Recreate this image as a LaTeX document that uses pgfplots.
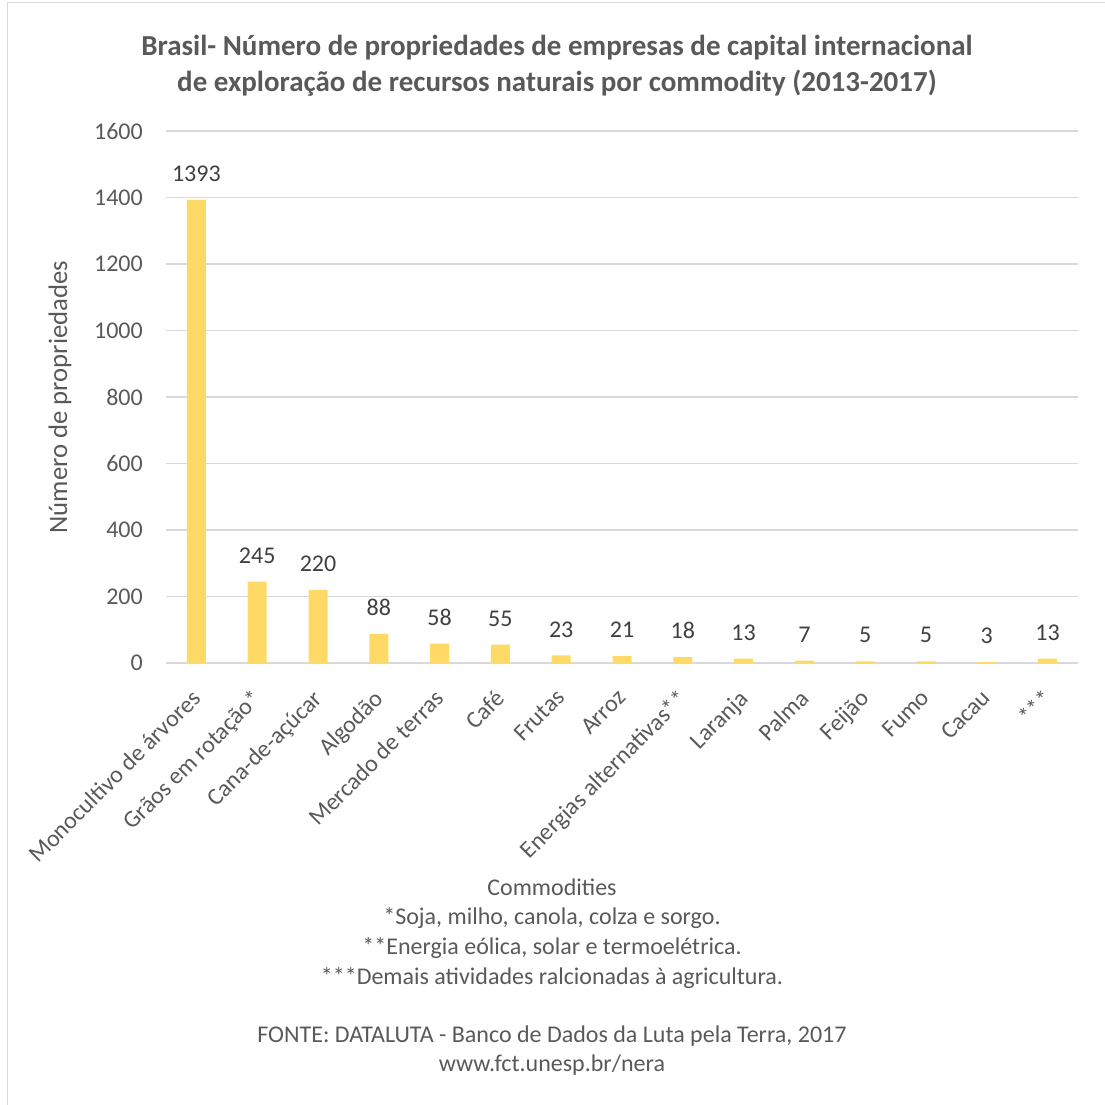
\documentclass[border=0pt]{standalone}
\usepackage{fontspec}
\setmainfont{Carlito}
\usepackage{pgfplots}
\pgfplotsset{compat=1.18}
\definecolor{barc}{RGB}{255,217,102}
\definecolor{gridc}{RGB}{217,217,217}
\definecolor{txt}{RGB}{89,89,89}
\definecolor{lab}{RGB}{64,64,64}
\newcommand{\fs}{\fontsize{24}{29}\selectfont}
\begin{document}
\begin{tikzpicture}[x=1pt,y=1pt]
\path[use as bounding box] (0,0) rectangle (1105,-1104);
\draw[gridc,line width=1.5pt] (7.5,-1110) -- (7.5,-2.5) -- (1110,-2.5);
\node[font=\bfseries\fontsize{29}{36}\selectfont, text=txt, anchor=base] at (557,-55) {Brasil- Número de propriedades de empresas de capital internacional};
\node[font=\bfseries\fontsize{29}{36}\selectfont, text=txt, anchor=base] at (557,-91) {de exploração de recursos naturais por commodity (2013-2017)};
\begin{axis}[
  at={(166pt,-663pt)}, anchor=south west,
  scale only axis, width=912pt, height=532pt,
  xmin=-0.5, xmax=14.5, ymin=0, ymax=1600,
  ytick={0,200,...,1600},
  xtick={0,...,14},
  xticklabels={Monocultivo de árvores, Grãos em rotação*, Cana-de-açúcar, Algodão, Mercado de terras, Café, Frutas, Arroz, Energias alternativas**, Laranja, Palma, Feijão, Fumo, Cacau, ***},
  /pgf/number format/assume math mode=true,
  /pgf/number format/1000 sep={},
  ymajorgrids, grid style={gridc, line width=1.3pt},
  axis x line*=bottom, axis y line*=left,
  x axis line style={gridc, line width=1.5pt, -},
  y axis line style={draw=none},
  major tick length=0pt,
  tick style={draw=none},
  yticklabel style={font=\fs, text=txt, inner sep=0pt, xshift=-23pt},
  xticklabel style={font=\fs, text=txt, inner sep=0pt, xshift=-6pt, yshift=-25pt, rotate=45, anchor=north east},
  ybar, bar width=19pt,
  nodes near coords,
  nodes near coords style={font=\fs, text=lab, anchor=south, inner sep=0pt, yshift=18pt},
  clip=false,
]
\addplot[fill=barc, draw=none] coordinates {
(0,1393) (1,245) (2,220) (3,88) (4,58) (5,55) (6,23) (7,21) (8,18) (9,13) (10,7) (11,5) (12,5) (13,3) (14,13)};
\end{axis}
\node[font=\fontsize{26.7}{32}\selectfont, text=txt, rotate=90] at (60,-397) {Número de propriedades};
\node[font=\fs, text=txt, anchor=base] at (552,-895) {Commodities};
\node[font=\fs, text=txt, anchor=base] at (552,-924) {*Soja, milho, canola, colza e sorgo.};
\node[font=\fs, text=txt, anchor=base] at (552,-954) {**Energia eólica, solar e termoelétrica.};
\node[font=\fs, text=txt, anchor=base] at (552,-984) {***Demais atividades ralcionadas à agricultura.};
\node[font=\fs, text=txt, anchor=base] at (552,-1042) {FONTE: DATALUTA - Banco de Dados da Luta pela Terra, 2017};
\node[font=\fs, text=txt, anchor=base] at (552,-1071) {www.fct.unesp.br/nera};
\end{tikzpicture}
\end{document}
